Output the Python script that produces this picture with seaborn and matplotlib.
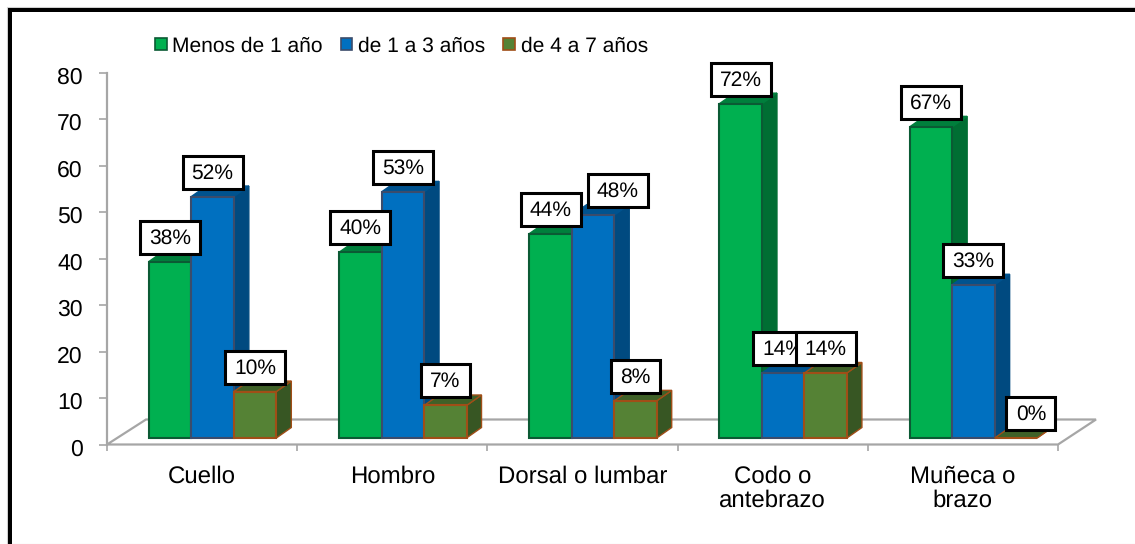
import matplotlib
matplotlib.use("Agg")
import matplotlib.pyplot as plt
from matplotlib.patches import Polygon, Rectangle
from matplotlib.transforms import ScaledTranslation
import pandas as pd
import seaborn as sns

categories = ["Cuello", "Hombro", "Dorsal o lumbar", "Codo o\nantebrazo", "Muñeca o\nbrazo"]
series_names = ["Menos de 1 año", "de 1 a 3 años", "de 4 a 7 años"]
menos_1 = [38, 40, 44, 72, 67]
de_1_a_3 = [52, 53, 48, 14, 33]
de_4_a_7 = [10, 7, 8, 14, 0]
y_ticks = [0, 10, 20, 30, 40, 50, 60, 70, 80]

face_colors = ["#00B050", "#0070C0", "#558235"]
edge_colors = ["#0B5A34", "#3B4C6B", "#A04E17"]
side_colors = ["#006E33", "#004A80", "#375623"]
top_colors = ["#007F3C", "#00538F", "#3F6128"]
grey = "#A6A6A6"

W, H = 1135, 544
df = pd.DataFrame({
    "cat": categories * 3,
    "serie": [s for s in series_names for _ in categories],
    "valor": menos_1 + de_1_a_3 + de_4_a_7,
})

sns.set_theme(style="white")
plt.rcParams["font.family"] = ["Liberation Sans", "DejaVu Sans"]
plt.rcParams["text.hinting"] = "no_hinting"
plt.rcParams["text.hinting_factor"] = 1

fig = plt.figure(figsize=(W / 100, H / 100), dpi=100)
ax = fig.add_axes([107 / W, (H - 444.5) / H, (1058 - 107) / W, (444.5 - 73) / H])

sns.barplot(data=df, x="cat", y="valor", hue="serie", hue_order=series_names,
            palette=face_colors, width=0.67, gap=0, saturation=1, errorbar=None, ax=ax)
ax.set_xlim(-0.5, 4.5)
ax.set_ylim(0, 80)

# pixels per data unit, the fake 3D is sized in pixels
px_x = (1058 - 107) / 5
px_y = (444.5 - 73) / 80
dx = 15 / px_x
dy = 10.5 / px_y
base = 6.5 / px_y
shift = 10.5 / px_x

# floor
floor = Polygon([(-0.5, 0), (4.5, 0), (4.5 + 38 / px_x, 25 / px_y), (-0.5 + 39 / px_x, 25 / px_y)],
                closed=True, facecolor="white", edgecolor=grey, lw=1.6, clip_on=False, zorder=1)
ax.add_patch(floor)

# bars: move them onto the floor, then add side and top faces
for s, container in enumerate(ax.containers):
    for i, bar in enumerate(container):
        bar.set_x(bar.get_x() + shift)
        bar.set_y(base)
        bar.set_facecolor(face_colors[s])
        bar.set_edgecolor(edge_colors[s])
        bar.set_linewidth(1.5)
        bar.set_zorder(3 + s + 0.5)
        x0, x1 = bar.get_x(), bar.get_x() + bar.get_width()
        y0, y1 = base, base + bar.get_height()
        ax.add_patch(Polygon([(x1, y0), (x1 + dx, y0 + dy), (x1 + dx, y1 + dy), (x1, y1)],
                             facecolor=side_colors[s], edgecolor=edge_colors[s] if s == 2 else side_colors[s],
                             lw=1, clip_on=False, zorder=3 + s))
        ax.add_patch(Polygon([(x0, y1), (x1, y1), (x1 + dx, y1 + dy), (x0 + dx, y1 + dy)],
                             facecolor=top_colors[s], edgecolor=edge_colors[s] if s == 2 else top_colors[s],
                             lw=1, clip_on=False, zorder=3 + s + 0.2))

# value labels, the chart has two boxes moved aside by hand
moved_px = {(1, 2): 25, (2, 4): 15}
for s, container in enumerate(ax.containers):
    for i, bar in enumerate(container):
        v = bar.get_height()
        xc = bar.get_x() + bar.get_width() / 2 + moved_px.get((s, i), 0) / px_x
        yc = base + v + 24.5 / px_y
        box_w = 60 if v >= 10 else 49
        z = 10 + s
        ax.add_patch(Rectangle((xc - box_w / 2 / px_x, yc - 16.5 / px_y), box_w / px_x, 33 / px_y,
                               facecolor="white", edgecolor="black", lw=2.2, clip_on=False, zorder=z))
        ax.text(xc, yc - 0.2, f"{v:.0f}%", ha="center", va="center", fontsize=15.2,
                color="black", zorder=z + 0.5)

# axes
ax.set_xlabel("")
ax.set_ylabel("")
ax.set_xticks([-0.5, 0.5, 1.5, 2.5, 3.5, 4.5])
ax.set_xticklabels([])
ax.set_yticks(y_ticks)
ax.tick_params(axis="y", left=True, length=5.5, width=1.2, color=grey, pad=12, labelsize=16.8, labelcolor="black")
ax.tick_params(axis="x", bottom=True, length=4.5, width=1.2, color=grey)
down = ScaledTranslation(0, -2.5 / 100, fig.dpi_scale_trans)
for label in ax.get_yticklabels():
    label.set_transform(label.get_transform() + down)
for i, name in enumerate(categories):
    ax.annotate(name, (i, 0), xycoords=("data", "axes fraction"), xytext=(0, -15), textcoords="offset points",
                ha="center", va="top", fontsize=17, color="black", linespacing=1.1)
sns.despine(ax=ax, top=True, right=True)
ax.spines["left"].set_color(grey)
ax.spines["left"].set_linewidth(1.6)
ax.spines["bottom"].set_visible(False)

# legend
sns.move_legend(ax, loc="center left", bbox_to_anchor=(155 / W, (H - 46) / H), bbox_transform=fig.transFigure,
                ncol=3, frameon=False, title=None, fontsize=15.2, handlelength=0.55, handleheight=0.55,
                handletextpad=0.27, columnspacing=0.85, borderpad=0, borderaxespad=0, labelspacing=0)
for s, handle in enumerate(ax.get_legend().legend_handles):
    handle.set_facecolor(face_colors[s])
    handle.set_edgecolor(edge_colors[s])
    handle.set_linewidth(1.2)
for t in ax.get_legend().get_texts():
    t.set_color("black")

# black frame, only top and left reach the picture
fig.add_artist(Rectangle((7 / W, 0), W, (H - 7) / H, transform=fig.transFigure, facecolor="none",
                         edgecolor="#D0D0D0", lw=0.8))
fig.add_artist(Rectangle((8 / W, (H - 12) / H), (W - 8) / W, 4 / H, transform=fig.transFigure,
                         facecolor="black", edgecolor="none"))
fig.add_artist(Rectangle((8 / W, 0), 4 / W, (H - 8) / H, transform=fig.transFigure,
                         facecolor="black", edgecolor="none"))

fig.savefig("out.png", dpi=100)
